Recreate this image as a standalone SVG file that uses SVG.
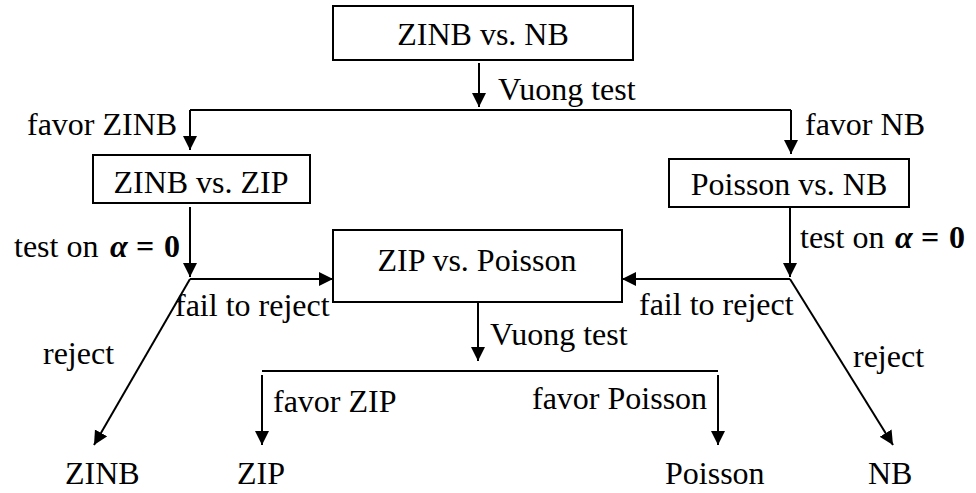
<svg xmlns="http://www.w3.org/2000/svg" width="976" height="493" viewBox="0 0 976 493">
<defs>
<marker id="ah" markerUnits="userSpaceOnUse" markerWidth="15" markerHeight="15" refX="14" refY="7" orient="auto">
<path d="M0,0 L14,7 L0,14 z" fill="#000"/>
</marker>
</defs>
<rect width="976" height="493" fill="#fff"/>
<g id="connectors" fill="none" stroke="#000" stroke-width="2">
<path marker-end="url(#ah)" d="M479,63 V107"/>
<path d="M190,110 H791"/>
<path marker-end="url(#ah)" d="M190,110 V150"/>
<path marker-end="url(#ah)" d="M791,110 V154"/>
<path marker-end="url(#ah)" d="M190,207 V277"/>
<path marker-end="url(#ah)" d="M190,279 H333"/>
<path marker-end="url(#ah)" d="M190,279 L94,445"/>
<path marker-end="url(#ah)" d="M790,207 V277"/>
<path marker-end="url(#ah)" d="M790,279 H622"/>
<path marker-end="url(#ah)" d="M790,279 L893,445"/>
<path marker-end="url(#ah)" d="M478,302 V361"/>
<path d="M262,371 H718"/>
<path marker-end="url(#ah)" d="M262,375 V445"/>
<path marker-end="url(#ah)" d="M718,375 V445"/>
</g>
<g id="labels">
<text font-family="Liberation Serif" font-size="32" x="498" y="100">Vuong test</text>
<text font-family="Liberation Serif" font-size="32" x="27" y="135">favor ZINB</text>
<text font-family="Liberation Serif" font-size="32" x="805" y="135">favor NB</text>
<text font-family="Liberation Serif" font-size="32" x="14" y="257">test on <tspan font-weight="bold" font-style="italic" x="110">&#945;</tspan><tspan font-weight="bold" x="136">=</tspan><tspan font-weight="bold" x="164">0</tspan></text>
<text font-family="Liberation Serif" font-size="32" x="800" y="248">test on <tspan font-weight="bold" font-style="italic" x="895">&#945;</tspan><tspan font-weight="bold" x="921">=</tspan><tspan font-weight="bold" x="949">0</tspan></text>
<text font-family="Liberation Serif" font-size="32" x="175" y="316">fail to reject</text>
<text font-family="Liberation Serif" font-size="32" x="639" y="315">fail to reject</text>
<text font-family="Liberation Serif" font-size="32" x="43" y="364">reject</text>
<text font-family="Liberation Serif" font-size="32" x="853" y="367">reject</text>
<text font-family="Liberation Serif" font-size="32" x="490" y="345">Vuong test</text>
<text font-family="Liberation Serif" font-size="32" x="273" y="412">favor ZIP</text>
<text font-family="Liberation Serif" font-size="32" x="532" y="409">favor Poisson</text>
</g>
<g id="n-top"><rect fill="#fff" stroke="#000" stroke-width="2" x="333" y="6" width="300" height="54"/><text font-family="Liberation Serif" font-size="32" x="483" y="45" text-anchor="middle">ZINB vs. NB</text></g>
<g id="n-zinb-zip"><rect fill="#fff" stroke="#000" stroke-width="2" x="93" y="155" width="217" height="48"/><text font-family="Liberation Serif" font-size="32" x="201" y="193" text-anchor="middle">ZINB vs. ZIP</text></g>
<g id="n-pois-nb"><rect fill="#fff" stroke="#000" stroke-width="2" x="669" y="159" width="240" height="48"/><text font-family="Liberation Serif" font-size="32" x="789" y="195" text-anchor="middle">Poisson vs. NB</text></g>
<g id="n-zip-pois"><rect fill="#fff" stroke="#000" stroke-width="2" x="333" y="230" width="289" height="72"/><text font-family="Liberation Serif" font-size="32" x="477" y="271" text-anchor="middle">ZIP vs. Poisson</text></g>
<g id="o-zinb"><text font-family="Liberation Serif" font-size="32" x="65" y="484">ZINB</text></g>
<g id="o-zip"><text font-family="Liberation Serif" font-size="32" x="237" y="484">ZIP</text></g>
<g id="o-pois"><text font-family="Liberation Serif" font-size="32" x="665" y="484">Poisson</text></g>
<g id="o-nb"><text font-family="Liberation Serif" font-size="32" x="868" y="484">NB</text></g>
</svg>
